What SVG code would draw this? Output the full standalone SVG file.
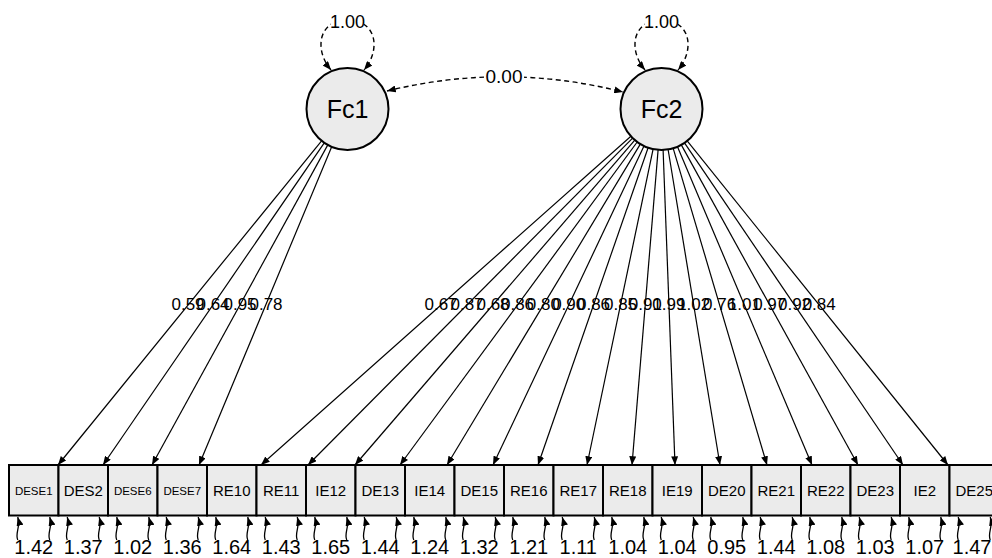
<svg xmlns="http://www.w3.org/2000/svg" width="992" height="558" viewBox="0 0 992 558">
<style>
text{font-family:"Liberation Sans",Arial,sans-serif;fill:#000;text-anchor:middle}
.box{fill:#ebebeb;stroke:#000;stroke-width:2}
.lat{fill:#ebebeb;stroke:#000;stroke-width:2}
.ld{fill:none;stroke:#000;stroke-width:1.2;marker-end:url(#ah)}
.dash{fill:none;stroke:#000;stroke-width:1.4;stroke-dasharray:5 3.5;marker-start:url(#ah);marker-end:url(#ah)}
.res{fill:none;stroke:#000;stroke-width:1.3;marker-end:url(#ah)}
.lt{font-size:17px}
.rl{font-size:20px}
.bt{font-size:15px}
.bs{font-size:11.5px}
.ft{font-size:25px}
</style>
<defs>
<marker id="ah" viewBox="0 0 10 8" refX="10" refY="4" markerWidth="9" markerHeight="7" markerUnits="userSpaceOnUse" orient="auto-start-reverse"><path d="M0,0 L10,4 L0,8 z" fill="#000"/></marker>
</defs>
<g id="connectors">
<path class="dash" d="M331,70 C314,50 318,20 347.5,20 C377,20 381,50 364,70"/>
<path class="dash" d="M645,70 C628,50 632,20 661.5,20 C691,20 695,50 678,70"/>
<path class="dash" d="M387,91 Q505,62 623,92"/>
<rect x="331" y="12" width="33" height="18" fill="#fff"/>
<text x="347.5" y="28" style="font-size:18px">1.00</text>
<rect x="645" y="12" width="33" height="18" fill="#fff"/>
<text x="661.5" y="28" style="font-size:18px">1.00</text>
<rect x="484" y="68" width="40" height="17" fill="#fff"/>
<text x="504" y="83" style="font-size:19px">0.00</text>
<line class="ld" x1="321.6" y1="140.8" x2="58" y2="465"/>
<line class="ld" x1="324.3" y1="142.8" x2="103" y2="465"/>
<line class="ld" x1="327.8" y1="144.9" x2="152" y2="465"/>
<line class="ld" x1="331.7" y1="146.8" x2="199" y2="465"/>
<line class="ld" x1="630.9" y1="136.2" x2="261" y2="465"/>
<line class="ld" x1="632.6" y1="138.1" x2="308" y2="465"/>
<line class="ld" x1="634.8" y1="140.1" x2="355" y2="465"/>
<line class="ld" x1="637.2" y1="142.0" x2="400" y2="465"/>
<line class="ld" x1="640.3" y1="144.1" x2="447" y2="465"/>
<line class="ld" x1="644.0" y1="146.1" x2="493" y2="465"/>
<line class="ld" x1="648.1" y1="147.7" x2="538" y2="465"/>
<line class="ld" x1="653.1" y1="149.1" x2="587" y2="465"/>
<line class="ld" x1="658.1" y1="149.9" x2="632" y2="465"/>
<line class="ld" x1="663.1" y1="150.0" x2="675" y2="465"/>
<line class="ld" x1="668.1" y1="149.5" x2="720" y2="465"/>
<line class="ld" x1="673.2" y1="148.3" x2="767" y2="465"/>
<line class="ld" x1="677.5" y1="146.8" x2="812" y2="465"/>
<line class="ld" x1="681.3" y1="144.9" x2="858" y2="465"/>
<line class="ld" x1="684.5" y1="142.9" x2="903" y2="465"/>
<line class="ld" x1="687.2" y1="140.9" x2="948" y2="465"/>
<g class="lt">
<text x="188" y="309.5">0.59</text>
<text x="213" y="309.5">0.64</text>
<text x="240" y="309.5">0.95</text>
<text x="266" y="309.5">0.78</text>
<text x="441" y="309.5">0.67</text>
<text x="467" y="309.5">0.87</text>
<text x="493" y="309.5">0.68</text>
<text x="517.5" y="309.5">0.86</text>
<text x="543.4" y="309.5">0.80</text>
<text x="568.7" y="309.5">0.90</text>
<text x="593.5" y="309.5">0.86</text>
<text x="620.5" y="309.5">0.85</text>
<text x="645.3" y="309.5">0.91</text>
<text x="668.9" y="309.5">0.99</text>
<text x="693.7" y="309.5">1.02</text>
<text x="719.6" y="309.5">0.76</text>
<text x="744.4" y="309.5">1.01</text>
<text x="769.7" y="309.5">0.97</text>
<text x="794.5" y="309.5">0.92</text>
<text x="819.2" y="309.5">0.84</text>
</g>
</g>
<g id="Fc1"><circle class="lat" cx="347.5" cy="109" r="41"/><text class="ft" x="347.5" y="118">Fc1</text></g>
<g id="Fc2"><circle class="lat" cx="661.5" cy="109" r="41"/><text class="ft" x="661.5" y="118">Fc2</text></g>
<g id="DESE1"><rect class="box" x="9" y="465" width="49.5" height="50.5"/><text class="bs" x="33.75" y="494.5">DESE1</text><path class="res" d="M17.75,540 C14.75,533 20.75,528 17.75,517"/><path class="res" d="M49.75,540 C46.75,533 52.75,528 49.75,517"/><text class="rl" x="33.75" y="554">1.42</text></g>
<g id="DES2"><rect class="box" x="58.5" y="465" width="49.5" height="50.5"/><text class="bt" x="83.25" y="496">DES2</text><path class="res" d="M67.25,540 C64.25,533 70.25,528 67.25,517"/><path class="res" d="M99.25,540 C96.25,533 102.25,528 99.25,517"/><text class="rl" x="83.25" y="554">1.37</text></g>
<g id="DESE6"><rect class="box" x="108" y="465" width="49.5" height="50.5"/><text class="bs" x="132.75" y="494.5">DESE6</text><path class="res" d="M116.75,540 C113.75,533 119.75,528 116.75,517"/><path class="res" d="M148.75,540 C145.75,533 151.75,528 148.75,517"/><text class="rl" x="132.75" y="554">1.02</text></g>
<g id="DESE7"><rect class="box" x="157.5" y="465" width="49.5" height="50.5"/><text class="bs" x="182.25" y="494.5">DESE7</text><path class="res" d="M166.25,540 C163.25,533 169.25,528 166.25,517"/><path class="res" d="M198.25,540 C195.25,533 201.25,528 198.25,517"/><text class="rl" x="182.25" y="554">1.36</text></g>
<g id="RE10"><rect class="box" x="207" y="465" width="49.5" height="50.5"/><text class="bt" x="231.75" y="496">RE10</text><path class="res" d="M215.75,540 C212.75,533 218.75,528 215.75,517"/><path class="res" d="M247.75,540 C244.75,533 250.75,528 247.75,517"/><text class="rl" x="231.75" y="554">1.64</text></g>
<g id="RE11"><rect class="box" x="256.5" y="465" width="49.5" height="50.5"/><text class="bt" x="281.25" y="496">RE11</text><path class="res" d="M265.25,540 C262.25,533 268.25,528 265.25,517"/><path class="res" d="M297.25,540 C294.25,533 300.25,528 297.25,517"/><text class="rl" x="281.25" y="554">1.43</text></g>
<g id="IE12"><rect class="box" x="306" y="465" width="49.5" height="50.5"/><text class="bt" x="330.75" y="496">IE12</text><path class="res" d="M314.75,540 C311.75,533 317.75,528 314.75,517"/><path class="res" d="M346.75,540 C343.75,533 349.75,528 346.75,517"/><text class="rl" x="330.75" y="554">1.65</text></g>
<g id="DE13"><rect class="box" x="355.5" y="465" width="49.5" height="50.5"/><text class="bt" x="380.25" y="496">DE13</text><path class="res" d="M364.25,540 C361.25,533 367.25,528 364.25,517"/><path class="res" d="M396.25,540 C393.25,533 399.25,528 396.25,517"/><text class="rl" x="380.25" y="554">1.44</text></g>
<g id="IE14"><rect class="box" x="405" y="465" width="49.5" height="50.5"/><text class="bt" x="429.75" y="496">IE14</text><path class="res" d="M413.75,540 C410.75,533 416.75,528 413.75,517"/><path class="res" d="M445.75,540 C442.75,533 448.75,528 445.75,517"/><text class="rl" x="429.75" y="554">1.24</text></g>
<g id="DE15"><rect class="box" x="454.5" y="465" width="49.5" height="50.5"/><text class="bt" x="479.25" y="496">DE15</text><path class="res" d="M463.25,540 C460.25,533 466.25,528 463.25,517"/><path class="res" d="M495.25,540 C492.25,533 498.25,528 495.25,517"/><text class="rl" x="479.25" y="554">1.32</text></g>
<g id="RE16"><rect class="box" x="504" y="465" width="49.5" height="50.5"/><text class="bt" x="528.75" y="496">RE16</text><path class="res" d="M512.75,540 C509.75,533 515.75,528 512.75,517"/><path class="res" d="M544.75,540 C541.75,533 547.75,528 544.75,517"/><text class="rl" x="528.75" y="554">1.21</text></g>
<g id="RE17"><rect class="box" x="553.5" y="465" width="49.5" height="50.5"/><text class="bt" x="578.25" y="496">RE17</text><path class="res" d="M562.25,540 C559.25,533 565.25,528 562.25,517"/><path class="res" d="M594.25,540 C591.25,533 597.25,528 594.25,517"/><text class="rl" x="578.25" y="554">1.11</text></g>
<g id="RE18"><rect class="box" x="603" y="465" width="49.5" height="50.5"/><text class="bt" x="627.75" y="496">RE18</text><path class="res" d="M611.75,540 C608.75,533 614.75,528 611.75,517"/><path class="res" d="M643.75,540 C640.75,533 646.75,528 643.75,517"/><text class="rl" x="627.75" y="554">1.04</text></g>
<g id="IE19"><rect class="box" x="652.5" y="465" width="49.5" height="50.5"/><text class="bt" x="677.25" y="496">IE19</text><path class="res" d="M661.25,540 C658.25,533 664.25,528 661.25,517"/><path class="res" d="M693.25,540 C690.25,533 696.25,528 693.25,517"/><text class="rl" x="677.25" y="554">1.04</text></g>
<g id="DE20"><rect class="box" x="702" y="465" width="49.5" height="50.5"/><text class="bt" x="726.75" y="496">DE20</text><path class="res" d="M710.75,540 C707.75,533 713.75,528 710.75,517"/><path class="res" d="M742.75,540 C739.75,533 745.75,528 742.75,517"/><text class="rl" x="726.75" y="554">0.95</text></g>
<g id="RE21"><rect class="box" x="751.5" y="465" width="49.5" height="50.5"/><text class="bt" x="776.25" y="496">RE21</text><path class="res" d="M760.25,540 C757.25,533 763.25,528 760.25,517"/><path class="res" d="M792.25,540 C789.25,533 795.25,528 792.25,517"/><text class="rl" x="776.25" y="554">1.44</text></g>
<g id="RE22"><rect class="box" x="801" y="465" width="49.5" height="50.5"/><text class="bt" x="825.75" y="496">RE22</text><path class="res" d="M809.75,540 C806.75,533 812.75,528 809.75,517"/><path class="res" d="M841.75,540 C838.75,533 844.75,528 841.75,517"/><text class="rl" x="825.75" y="554">1.08</text></g>
<g id="DE23"><rect class="box" x="850.5" y="465" width="49.5" height="50.5"/><text class="bt" x="875.25" y="496">DE23</text><path class="res" d="M859.25,540 C856.25,533 862.25,528 859.25,517"/><path class="res" d="M891.25,540 C888.25,533 894.25,528 891.25,517"/><text class="rl" x="875.25" y="554">1.03</text></g>
<g id="IE2"><rect class="box" x="900" y="465" width="49.5" height="50.5"/><text class="bt" x="924.75" y="496">IE2</text><path class="res" d="M908.75,540 C905.75,533 911.75,528 908.75,517"/><path class="res" d="M940.75,540 C937.75,533 943.75,528 940.75,517"/><text class="rl" x="924.75" y="554">1.07</text></g>
<g id="DE25"><rect class="box" x="949.5" y="465" width="49.5" height="50.5"/><text class="bt" x="974.25" y="496">DE25</text><path class="res" d="M958.25,540 C955.25,533 961.25,528 958.25,517"/><path class="res" d="M990.25,540 C987.25,533 993.25,528 990.25,517"/><text class="rl" x="972" y="554">1.47</text></g>
</svg>
